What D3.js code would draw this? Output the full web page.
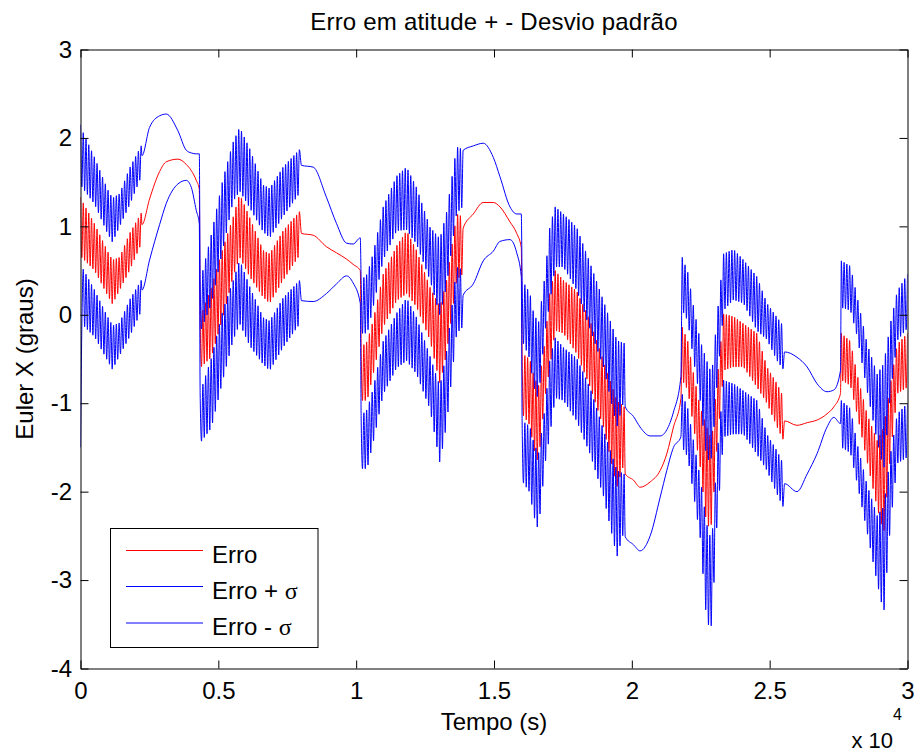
<!DOCTYPE html>
<html><head><meta charset="utf-8">
<script src="https://cdn.jsdelivr.net/npm/d3@7"></script>
<style>
body{margin:0;background:#fff}
svg{display:block}
text{font-family:"Liberation Sans",Arial,Helvetica,sans-serif;fill:#000}
</style>
</head><body>
<svg id="c" width="915" height="751"></svg>
<script>
// ---- data (time in s, Euler X in degrees) ----
// knots; where erroSup != erroInf the error oscillates between the two envelopes
const tempo = [
  0, 40, 510, 980, 1160, 1420, 1780, 2200,
  2230, 2506, 2870, 3112, 3535, 3838, 4020, 4200, 4310,
  4340, 4746, 5170, 5533, 5775, 6138, 6622, 6864, 7348, 7980,
  8015, 8440, 8920, 9290, 9650, 9890, 10150,
  10180, 10400, 10620, 10980, 11470, 11830, 12190, 12680, 13040, 13280, 13645, 13860,
  13880, 14250, 14610, 14975, 15218, 15580, 15825, 15990,
  16020, 16300, 16430, 16610, 16850, 17030, 17220, 17520, 18000, 18490, 18970, 19460, 19720,
  19760, 20060, 20300, 20665, 21030, 21270, 21510, 21780,
  21830, 22030, 22240, 22480, 22720, 22900, 23090, 23330, 23690, 24050, 24540, 24900, 25270, 25500,
  25540, 25990, 26360, 26720, 27080, 27330, 27570,
  27600, 27930, 28170, 28530, 28900, 29140, 29380, 29630, 30000
];
const erroSup = [
  1.33, 1.30, 1.03, 0.72, 0.62, 0.65, 0.92, 1.15,
  1.02, 1.31, 1.62, 1.73, 1.76, 1.70, 1.63, 1.52, 1.42,
  -0.03, 0.31, 0.76, 1.10, 1.37, 1.10, 0.73, 0.69, 0.95, 1.18,
  0.92, 0.90, 0.77, 0.70, 0.63, 0.57, 0.50,
  -0.37, -0.30, -0.06, 0.46, 0.78, 0.95, 0.73, 0.31, 0.09, 0.39, 1.14, 1.11,
  0.98, 1.14, 1.27, 1.27, 1.22, 1.05, 0.92, 0.76,
  -0.44, -0.50, -0.67, -0.82, -0.29, 0.27, 0.50, 0.39, 0.27, -0.07, -0.52, -0.97, -1.04,
  -1.80, -1.87, -1.95, -1.89, -1.76, -1.57, -1.27, -0.95,
  -0.14, -0.30, -0.67, -1.04, -1.27, -1.42, -0.74, 0.01, -0.02, -0.10, -0.21, -0.59, -0.78, -0.93,
  -1.20, -1.25, -1.22, -1.19, -1.12, -1.04, -0.89,
  -0.21, -0.30, -0.67, -1.12, -1.42, -1.27, -0.78, -0.33, -0.21
];
const erroInf = [
  0.69, 0.65, 0.50, 0.22, 0.12, 0.28, 0.50, 0.80,
  1.02, 1.31, 1.62, 1.73, 1.76, 1.70, 1.63, 1.52, 1.42,
  -0.60, -0.48, -0.03, 0.43, 0.65, 0.43, 0.20, 0.13, 0.39, 0.69,
  0.92, 0.90, 0.77, 0.70, 0.63, 0.57, 0.50,
  -0.97, -0.97, -0.67, -0.14, 0.16, 0.24, 0.09, -0.29, -0.78, -0.44, 0.39, 0.46,
  0.98, 1.14, 1.27, 1.27, 1.22, 1.05, 0.92, 0.76,
  -1.12, -1.25, -1.50, -1.68, -0.93, -0.59, -0.18, -0.21, -0.44, -0.82, -1.27, -1.95, -1.68,
  -1.80, -1.87, -1.95, -1.89, -1.76, -1.57, -1.27, -0.95,
  -0.74, -0.85, -1.27, -1.72, -2.40, -2.37, -1.50, -0.63, -0.59, -0.59, -0.82, -1.00, -1.27, -1.42,
  -1.20, -1.25, -1.22, -1.19, -1.12, -1.04, -0.89,
  -0.74, -0.80, -1.12, -1.65, -2.18, -2.48, -1.57, -0.89, -0.82
];
const sigmaMais = [
  0.82, 0.80, 0.75, 0.70, 0.70, 0.72, 0.74, 0.76,
  0.78, 0.81, 0.63, 0.54, 0.32, 0.16, 0.20, 0.30, 0.40,
  0.40, 0.60, 0.78, 0.85, 0.75, 0.78, 0.74, 0.74, 0.72, 0.70,
  0.77, 0.77, 0.56, 0.33, 0.18, 0.23, 0.37,
  0.76, 0.76, 0.76, 0.76, 0.79, 0.72, 0.71, 0.68, 0.77, 0.77, 0.76, 0.76,
  0.88, 0.77, 0.67, 0.51, 0.34, 0.17, 0.22, 0.38,
  0.83, 0.75, 0.70, 0.72, 0.74, 0.74, 0.72, 0.75, 0.72, 0.65, 0.68, 0.68, 0.72,
  0.76, 0.72, 0.68, 0.52, 0.39, 0.27, 0.17, 0.25,
  0.79, 0.78, 0.76, 0.75, 0.75, 0.75, 0.72, 0.68, 0.76, 0.72, 0.64, 0.72, 0.75, 0.80,
  0.78, 0.77, 0.63, 0.41, 0.25, 0.19, 0.26,
  0.82, 0.85, 0.88, 0.80, 0.75, 0.72, 0.68, 0.60, 0.67
];
const sigmaMenos = [
  2.83, 0.75, 0.75, 0.74, 0.74, 0.74, 0.75, 0.76,
  0.74, 0.69, 0.60, 0.47, 0.28, 0.18, 0.19, 0.34, 0.39,
  0.85, 0.80, 0.70, 0.72, 0.75, 0.78, 0.76, 0.76, 0.76, 0.78,
  0.76, 0.75, 0.53, 0.35, 0.19, 0.21, 0.37,
  0.77, 0.77, 0.77, 0.76, 0.76, 0.76, 0.76, 0.78, 0.90, 0.80, 0.60, 0.60,
  0.76, 0.79, 0.66, 0.55, 0.39, 0.20, 0.22, 0.33,
  0.76, 0.76, 0.76, 0.76, 0.76, 0.76, 0.76, 0.76, 0.76, 0.76, 0.78, 0.79, 0.76,
  0.71, 0.73, 0.72, 0.61, 0.30, 0.19, 0.23, 0.43,
  0.76, 0.76, 0.76, 0.80, 1.10, 1.15, 0.85, 0.75, 0.76, 0.76, 0.76, 0.76, 0.76, 0.76,
  0.71, 0.75, 0.58, 0.38, 0.15, 0.12, 0.34,
  0.76, 0.76, 0.78, 0.80, 0.85, 0.90, 0.80, 0.79, 0.79
];
const xTicks = [0, 5000, 10000, 15000, 20000, 25000, 30000];
const xTickLabels = ["0", "0.5", "1", "1.5", "2", "2.5", "3"];
const yTicks = [-4, -3, -2, -1, 0, 1, 2, 3];
const yTickLabels = ["-4", "-3", "-2", "-1", "0", "1", "2", "3"];
const seriesNames = ["Erro", "Erro + ", "Erro - "];
const seriesColors = ["#ff0000", "#0000ff", "#0000ff"];

// ---- layout ----
const svg = d3.select("#c");
const m = {l: 80.5, r: 907.5, t: 49.5, b: 668.5};
const x = d3.scaleLinear().domain([0, 30000]).range([m.l, m.r]);
const y = d3.scaleLinear().domain([-4, 3]).range([m.b, m.t]);

// ---- build drawn samples from the envelopes ----
const STEP = 50;
const n = tempo.length;
const osc = i => erroSup[i] !== erroInf[i];
const samples = [];
let i = 0;
while (i < n) {
  if (!osc(i)) {
    samples.push({t: tempo[i], e: erroSup[i], sp: sigmaMais[i], sn: sigmaMenos[i]});
    i++; continue;
  }
  let j = i; while (j + 1 < n && osc(j + 1)) j++;
  let seg = i, k = 0;
  for (let t = tempo[i]; t <= tempo[j] + 1e-6; t += STEP, k++) {
    while (seg < j - 1 && t > tempo[seg + 1]) seg++;
    let f = 0;
    if (j > i) f = Math.min(1, (t - tempo[seg]) / (tempo[seg + 1] - tempo[seg]));
    const L = (a) => j > i ? a[seg] + (a[seg + 1] - a[seg]) * f : a[seg];
    const e = (k % 2 === 0) ? L(erroSup) : L(erroInf);
    samples.push({t: t, e: e, sp: L(sigmaMais), sn: L(sigmaMenos)});
  }
  i = j + 1;
}

svg.append("clipPath").attr("id", "clip").append("rect")
  .attr("x", m.l).attr("y", m.t).attr("width", m.r - m.l).attr("height", m.b - m.t);

const acc = [d => d.e, d => d.e + d.sp, d => d.e - d.sn];
const plot = svg.append("g").attr("clip-path", "url(#clip)");
acc.forEach((f, s) => {
  plot.append("path").datum(samples)
    .attr("fill", "none").attr("stroke", seriesColors[s]).attr("stroke-width", 1)
    .attr("d", d3.line().curve(d3.curveMonotoneX).x(d => x(d.t)).y(d => y(f(d))));
});

// ---- axes (MATLAB style, inward ticks on all sides) ----
function styleAxis(g) {
  g.attr("font-family", null).attr("font-size", null);
  g.selectAll("path,line").attr("stroke", "#000").attr("stroke-width", 1);
  g.selectAll("text").attr("fill", "#000").style("font-size", "24px");
}
svg.append("g").attr("transform", `translate(0,${m.b})`)
  .call(d3.axisBottom(x).tickValues(xTicks).tickFormat((d, k) => xTickLabels[k])
        .tickSizeInner(-8).tickSizeOuter(0).tickPadding(13.5)).call(styleAxis);
svg.append("g").attr("transform", `translate(0,${m.t})`)
  .call(d3.axisTop(x).tickValues(xTicks).tickFormat("").tickSizeInner(-8).tickSizeOuter(0)).call(styleAxis);
svg.append("g").attr("transform", `translate(${m.l},0)`)
  .call(d3.axisLeft(y).tickValues(yTicks).tickFormat((d, k) => yTickLabels[k])
        .tickSizeInner(-8).tickSizeOuter(0).tickPadding(8.5)).call(styleAxis);
svg.append("g").attr("transform", `translate(${m.r},0)`)
  .call(d3.axisRight(y).tickValues(yTicks).tickFormat("").tickSizeInner(-8).tickSizeOuter(0)).call(styleAxis);

// ---- texts ----
svg.append("text").attr("x", 494).attr("y", 29.5).attr("text-anchor", "middle")
  .style("font-size", "24px").style("letter-spacing", "0.2px").text("Erro em atitude + - Desvio padrão");
svg.append("text").attr("x", 494).attr("y", 730).attr("text-anchor", "middle")
  .style("font-size", "24px").text("Tempo (s)");
svg.append("text").attr("transform", "translate(33,359) rotate(-90)").attr("text-anchor", "middle")
  .style("font-size", "24px").text("Euler X (graus)");
svg.append("text").attr("x", 851.5).attr("y", 747.5).style("font-size", "22px").text("x 10");
svg.append("text").attr("x", 893).attr("y", 720).style("font-size", "16px").text("4");

// ---- legend ----
const lg = svg.append("g");
lg.append("rect").attr("x", 110.5).attr("y", 528.5).attr("width", 207.5).attr("height", 119)
  .attr("fill", "#fff").attr("stroke", "#000").attr("stroke-width", 1);
const rowsY = [550.5, 586.5, 623];
seriesNames.forEach((name, s) => {
  lg.append("line").attr("x1", 126).attr("x2", 203).attr("y1", rowsY[s]).attr("y2", rowsY[s])
    .attr("stroke", seriesColors[s]).attr("stroke-width", 1);
  const t = lg.append("text").attr("x", 212).attr("y", Math.round(rowsY[s]) + 11.5).style("font-size", "24px");
  t.append("tspan").text(name);
  if (s > 0) t.append("tspan").style("font-family", "'Liberation Serif','DejaVu Serif',serif").text("σ");
});
</script>
</body></html>
